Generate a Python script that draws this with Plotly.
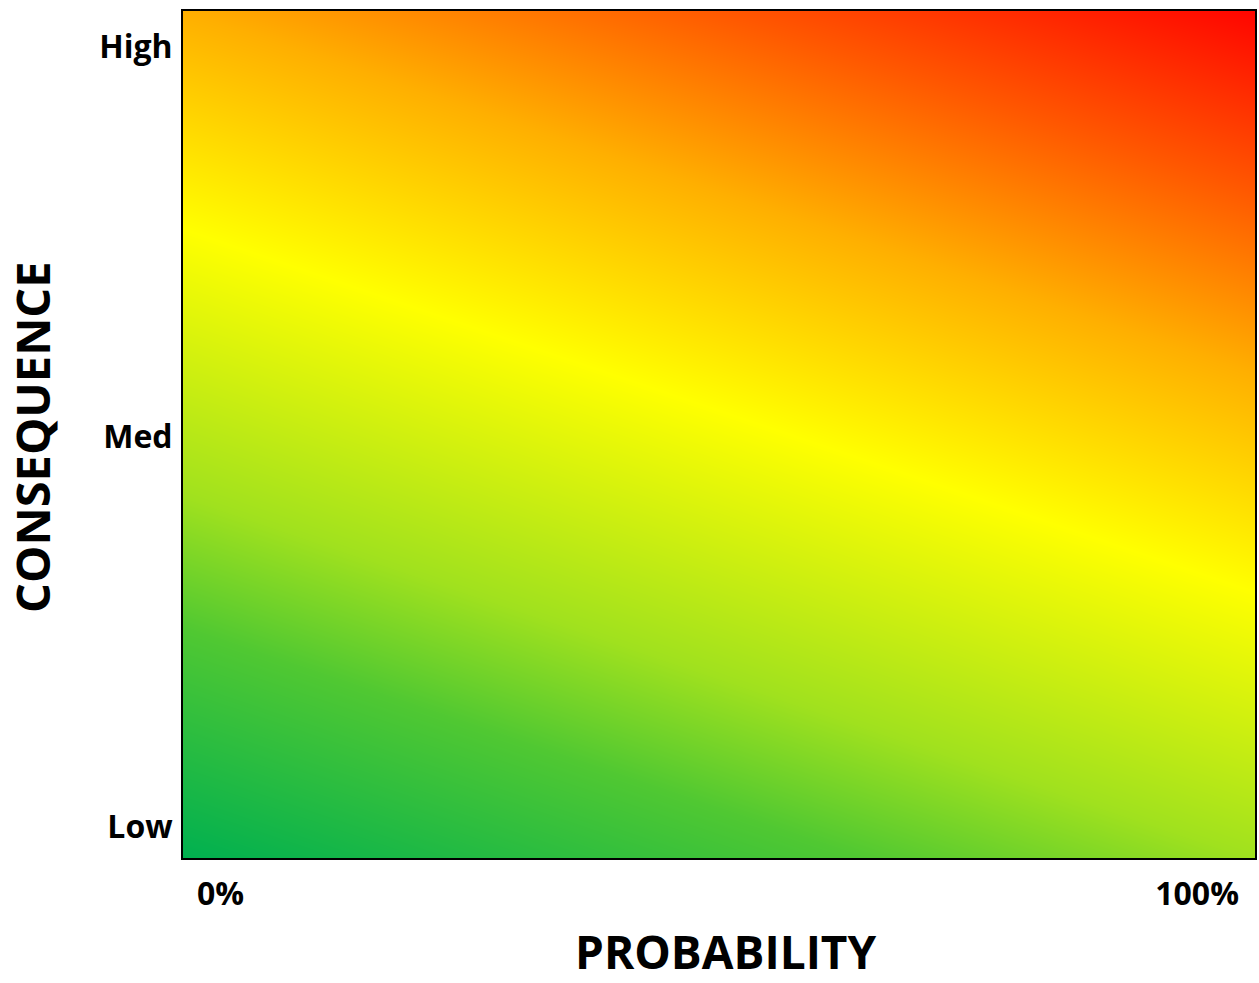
import plotly.graph_objects as go

# Heatmap corner grid (normalized plot coordinates) and risk level at each corner
prob_grid = [0, 1]            # left edge, right edge of the probability axis
cons_grid = [0, 1]            # bottom edge, top edge of the consequence axis
risk_z = [[0.00, 0.30],       # bottom row: low consequence
          [0.70, 1.00]]       # top row: high consequence

# Tick labels and axis titles
prob_labels = ["0%", "100%"]
cons_labels = ["Low", "Med", "High"]
x_title = "PROBABILITY"
y_title = "CONSEQUENCE"

# Colour stops of the risk gradient
risk_stops = [0.0, 0.19, 0.30, 0.52, 0.70, 0.85, 1.0]
risk_colors = ["rgb(0,176,80)", "rgb(80,200,50)", "rgb(160,225,30)",
               "rgb(255,255,0)", "rgb(255,175,0)", "rgb(255,88,0)", "rgb(255,5,0)"]

FONT = "Open Sans, Liberation Sans, DejaVu Sans, sans-serif"

fig = go.Figure(
    go.Heatmap(
        x=prob_grid, y=cons_grid, z=risk_z,
        zmin=0, zmax=1, zsmooth="best",
        colorscale=[[s, c] for s, c in zip(risk_stops, risk_colors)],
        showscale=False, hoverinfo="skip",
    )
)

fig.update_layout(
    width=1259, height=983,
    margin=dict(l=183, r=4, t=11, b=125, autoexpand=False),
    paper_bgcolor="white", plot_bgcolor="white",
    font=dict(family=FONT, color="black"),
    annotations=[
        dict(text=f"<b>{x_title}</b>", xref="paper", yref="paper",
             x=0.5065, y=-0.1470, xanchor="center", yanchor="bottom",
             showarrow=False, borderpad=0,
             font=dict(size=46, family=FONT, color="black")),
        dict(text=f"<b>{y_title}</b>", xref="paper", yref="paper",
             x=-0.141, y=0.497, xanchor="center", yanchor="middle", textangle=-90,
             showarrow=False, font=dict(size=47, family=FONT, color="black")),
    ],
)

fig.update_xaxes(
    range=[0, 1], tickmode="array",
    tickvals=[0.035, 0.946], ticktext=prob_labels,
    tickfont=dict(size=32, family=FONT, weight="bold"),
    ticks="", ticklabelstandoff=7, automargin=False,
    showgrid=False, zeroline=False,
    showline=True, mirror=True, linecolor="black", linewidth=2,
)
fig.update_yaxes(
    range=[0, 1], tickmode="array",
    tickvals=[0.037, 0.497, 0.958], ticktext=cons_labels,
    tickfont=dict(size=32, family=FONT, weight="bold"),
    ticks="", ticklabelstandoff=2, automargin=False,
    showgrid=False, zeroline=False,
    showline=True, mirror=True, linecolor="black", linewidth=2,
)

fig.write_html(
    "out.html",
    config={"displayModeBar": False},
    post_script="document.body.style.margin='0';document.body.style.overflow='hidden';",
)
